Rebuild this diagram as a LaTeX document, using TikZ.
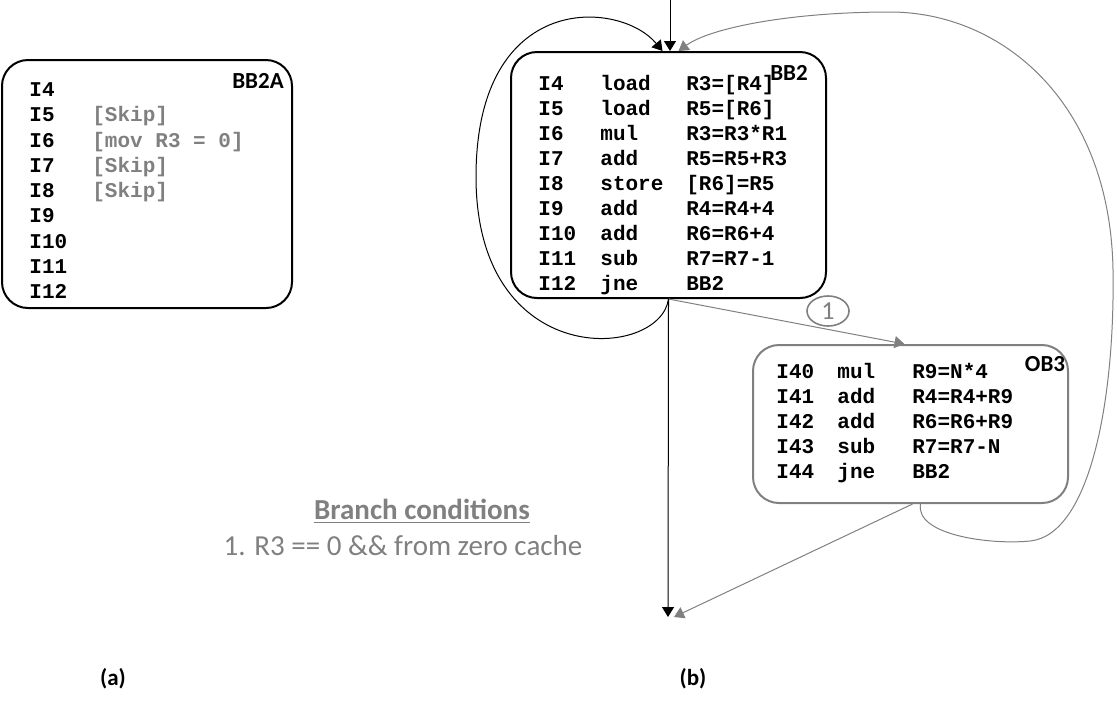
\documentclass[tikz,border=0pt]{standalone}
\usepackage{fontspec}
\setmainfont{Carlito}
\setmonofont{Liberation Mono}
\usepackage{tikz}
\usetikzlibrary{arrows.meta,shapes.geometric}
\definecolor{textgray}{RGB}{128,128,128}
\tikzstyle{roundbox}=[rectangle,draw=black,line width=1pt,
                      rounded corners=13pt,inner sep=0pt]
\tikzstyle{codeline}=[anchor=base west,inner sep=0pt,
                      font=\fontsize{10.5}{12.5}\selectfont\ttfamily\bfseries]
\tikzstyle{boxtag}=[inner sep=0pt,font=\fontsize{11.5}{13}\selectfont\bfseries]
\tikzstyle{flow}=[-{Triangle[length=5pt,width=6pt]},line width=0.5pt]
\tikzstyle{altflow}=[flow,draw=textgray]
\newcommand\insn[4][43pt]{\makebox[31pt][l]{#2}\makebox[#1][l]{#3}#4}

\begin{document}
\begin{tikzpicture}[x=0.5pt,y=-0.5pt]
    \useasboundingbox (0,0) rectangle (1117,709);
    % (a) block with skipped instructions
    \node [roundbox,minimum width=145pt,minimum height=124pt] (bb2a) at (147,184) {};
    \node [boxtag] (bb2a tag) at (258,81) {BB2A};
    \foreach \id/\txt [count=\i] in {I4/{},I5/{[Skip]},I6/{[mov R3 = 0]},I7/{[Skip]},
            I8/{[Skip]},I9/{},I10/{},I11/{},I12/{}}
        \node [codeline] (bb2a-\i) at (29,{96.5+25.25*(\i-1)}) {
            \makebox[31.5pt][l]{\id}\textcolor{textgray}{\txt}
        };
    % (b) original block
    \node [roundbox,minimum width=157.5pt,minimum height=123pt] (bb2) at (668.5,175) {};
    \node [boxtag] (bb2 tag) at (789,73) {BB2};
    \foreach \id/\op/\arg [count=\i] in {I4/load/{R3=[R4]},I5/load/{R5=[R6]},
            I6/mul/{R3=R3*R1},I7/add/{R5=R5+R3},I8/store/{[R6]=R5},I9/add/{R4=R4+4},
            I10/add/{R6=R6+4},I11/sub/{R7=R7-1},I12/jne/BB2}
        \node [codeline] (bb2-\i) at (538,{90.5+25*(\i-1)}) {\insn{\id}{\op}{\arg}};
    % (b) optimized block
    \node [roundbox,draw=textgray,minimum width=157.5pt,minimum height=79pt] (ob3) at (910.5,424) {};
    \node [boxtag] (ob3 tag) at (1045,364) {OB3};
    \foreach \id/\op/\arg [count=\i] in {I40/mul/{R9=N*4},I41/add/{R4=R4+R9},
            I42/add/{R6=R6+R9},I43/sub/{R7=R7-N},I44/jne/BB2}
        \node [codeline] (ob3-\i) at (776,{378.5+25*(\i-1)}) {
            \makebox[30.5pt][l]{\id}\makebox[37.5pt][l]{\op}\arg
        };
    % branch condition
    \node [ellipse,draw=textgray,line width=0.8pt,minimum width=21pt,minimum height=15pt,
           inner sep=0pt,text=textgray,font=\fontsize{13}{15}\selectfont] (cond1) at (828,311) {1};
    \node [text=textgray,font=\fontsize{14.5}{17}\selectfont\bfseries] (cond title) at (422,511) {
        \underline{Branch conditions}
    };
    \node [text=textgray,font=\fontsize{14.5}{17}\selectfont] (cond text) at (403,546) {
        1. R3 == 0 \&\& from zero cache
    };
    % captions
    \node [boxtag] (cap a) at (113,679) {(a)};
    \node [boxtag] (cap b) at (693,679) {(b)};
    % connectors
    \coordinate (entry) at (670,0);
    \coordinate (exit) at (668,617);
    \draw [flow] (entry) -- (entry |- bb2.north);
    \draw [flow] (bb2.south) .. controls (660,360) and (475,372) .. (476,175)
        .. controls (477,-10) and (620,0) .. ([xshift=-3pt]bb2.north);
    \draw [altflow] (bb2.south) -- ([xshift=-3pt]ob3.north);
    \draw [flow] (bb2.south) -- (exit);
    \draw [altflow] ([xshift=1pt]ob3.south) -- ([xshift=3pt]exit);
    \draw [altflow] ([xshift=5pt]ob3.south) .. controls (915,535) and (990,545) .. (1030,541)
        .. controls (1090,535) and (1115,400) .. (1113,270)
        .. controls (1110,100) and (1000,12) .. (890,12)
        .. controls (790,12) and (710,28) .. ([xshift=5pt]bb2.north);
\end{tikzpicture}
\end{document}
